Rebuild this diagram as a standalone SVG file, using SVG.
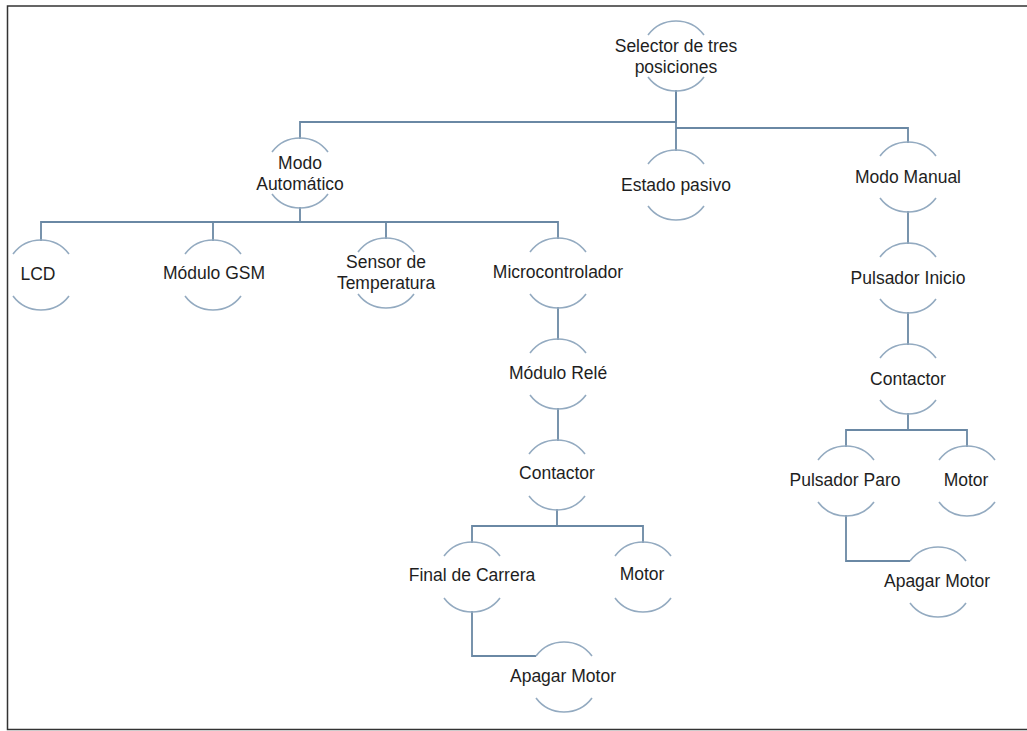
<svg xmlns="http://www.w3.org/2000/svg" xmlns:xlink="http://www.w3.org/1999/xlink" width="1027" height="731" viewBox="0 0 1027 731">
<style>
.ring{fill:none;stroke:#93aac0;stroke-width:1.6}
.conn{fill:none;stroke:#6a88a4;stroke-width:1.8}
.lbl{font-family:"Liberation Sans",Arial,sans-serif;font-size:17.5px;fill:#1e1e1e;text-anchor:middle;dominant-baseline:central}
.frame{fill:none;stroke:#333;stroke-width:1.5}
</style>
<defs>
<path id="ring" class="ring" d="M-28,-21 A35,35 0 0 1 28,-21 M-28,21 A35,35 0 0 0 28,21"/>
</defs>
<rect width="1027" height="731" fill="#fff"/>
<path class="frame" d="M1030,6 H7.5 V729.5 H1030"/>
<g id="connectors">
<path class="conn" d="M676,90 V122 H300 V139"/>
<path class="conn" d="M676,90 V151"/>
<path class="conn" d="M676,128 H908 V143"/>
<path class="conn" d="M300,207 V222"/>
<path class="conn" d="M41,241 V222 H558 V239"/>
<path class="conn" d="M213,222 V241"/>
<path class="conn" d="M386,222 V239"/>
<path class="conn" d="M558,307 V340"/>
<path class="conn" d="M558,408 V441"/>
<path class="conn" d="M557,509 V526"/>
<path class="conn" d="M472,543 V526 H643 V543"/>
<path class="conn" d="M472,611 V656 H536"/>
<path class="conn" d="M908,211 V244"/>
<path class="conn" d="M908,312 V345"/>
<path class="conn" d="M908,413 V430"/>
<path class="conn" d="M846,447 V430 H967 V447"/>
<path class="conn" d="M846,515 V561 H910"/>
</g>
<g id="n-selector"><use xlink:href="#ring" x="676" y="56"/><text class="lbl" x="676" y="46">Selector de tres</text><text class="lbl" x="676" y="67">posiciones</text></g>
<g id="n-auto"><use xlink:href="#ring" x="300" y="173"/><text class="lbl" x="300" y="163">Modo</text><text class="lbl" x="300" y="184">Automático</text></g>
<g id="n-pasivo"><use xlink:href="#ring" x="676" y="185"/><text class="lbl" x="676" y="185">Estado pasivo</text></g>
<g id="n-manual"><use xlink:href="#ring" x="908" y="177"/><text class="lbl" x="908" y="177">Modo Manual</text></g>
<g id="n-lcd"><use xlink:href="#ring" x="41" y="275"/><text class="lbl" x="38" y="274">LCD</text></g>
<g id="n-gsm"><use xlink:href="#ring" x="213" y="275"/><text class="lbl" x="214" y="273">Módulo GSM</text></g>
<g id="n-sensor"><use xlink:href="#ring" x="386" y="273"/><text class="lbl" x="386" y="262">Sensor de</text><text class="lbl" x="386" y="283">Temperatura</text></g>
<g id="n-micro"><use xlink:href="#ring" x="558" y="273"/><text class="lbl" x="558" y="272">Microcontrolador</text></g>
<g id="n-rele"><use xlink:href="#ring" x="558" y="374"/><text class="lbl" x="558" y="373">Módulo Relé</text></g>
<g id="n-cont1"><use xlink:href="#ring" x="557" y="475"/><text class="lbl" x="557" y="473">Contactor</text></g>
<g id="n-final"><use xlink:href="#ring" x="472" y="577"/><text class="lbl" x="472" y="575">Final de Carrera</text></g>
<g id="n-motor1"><use xlink:href="#ring" x="643" y="577"/><text class="lbl" x="642" y="574">Motor</text></g>
<g id="n-apagar1"><use xlink:href="#ring" x="564" y="677"/><text class="lbl" x="563" y="676">Apagar Motor</text></g>
<g id="n-inicio"><use xlink:href="#ring" x="908" y="278"/><text class="lbl" x="908" y="278">Pulsador Inicio</text></g>
<g id="n-cont2"><use xlink:href="#ring" x="908" y="379"/><text class="lbl" x="908" y="379">Contactor</text></g>
<g id="n-paro"><use xlink:href="#ring" x="846" y="481"/><text class="lbl" x="845" y="480">Pulsador Paro</text></g>
<g id="n-motor2"><use xlink:href="#ring" x="967" y="481"/><text class="lbl" x="966" y="480">Motor</text></g>
<g id="n-apagar2"><use xlink:href="#ring" x="938" y="582"/><text class="lbl" x="937" y="581">Apagar Motor</text></g>
</svg>
